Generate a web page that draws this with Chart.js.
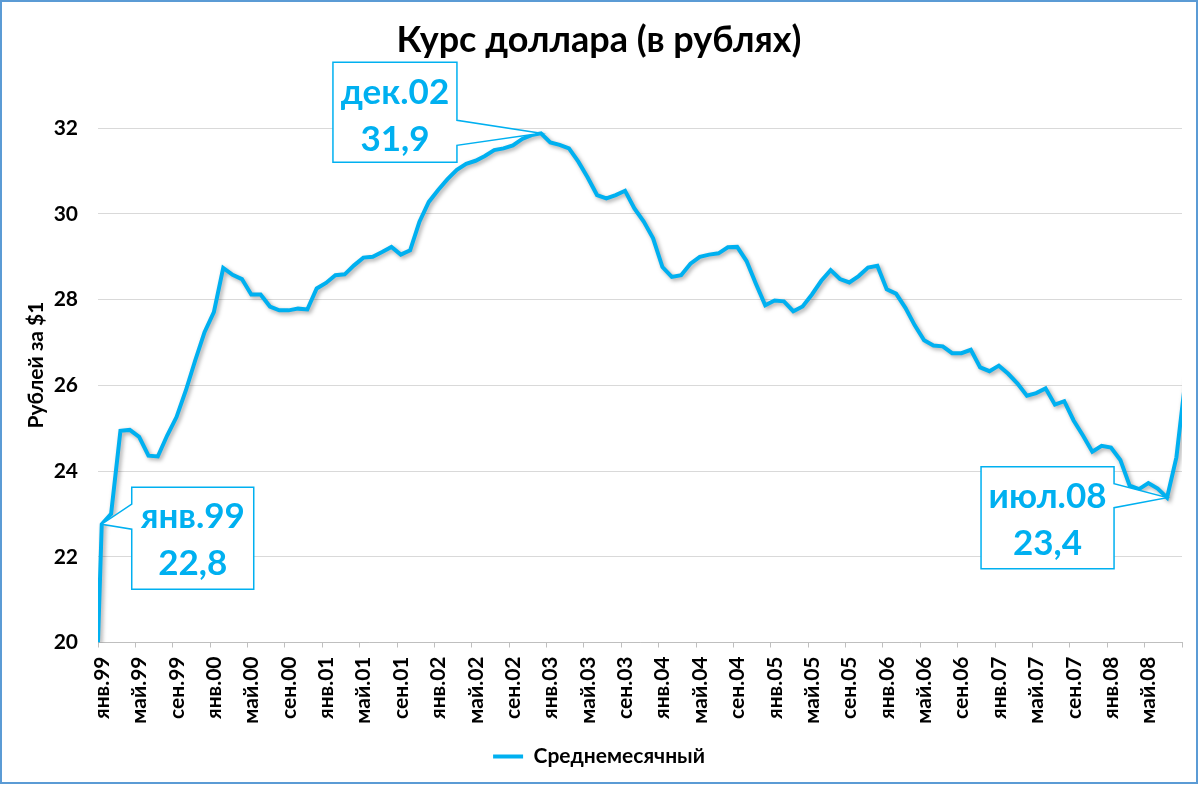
<!DOCTYPE html>
<html>
<head>
<meta charset="utf-8">
<script src="https://cdn.jsdelivr.net/npm/chart.js@4/dist/chart.umd.min.js"></script>
<style>
  html, body { margin: 0; padding: 0; background: #fff; }
  canvas { display: block; }
</style>
</head>
<body>
<canvas id="chart" width="1200" height="785"></canvas>
<script>
// Курс доллара, среднемесячные значения с янв.99 по сен.08
const monthNames = ['янв', 'фев', 'мар', 'апр', 'май', 'июн', 'июл', 'авг', 'сен', 'окт', 'ноя', 'дек'];
const firstYear = 1999;

// значение на начало оси (01.01.99)
const openRate = 20.0;

const rate = [
  22.76, 23.0, 24.94, 24.96, 24.80, 24.36, 24.34, 24.83, 25.26, 25.88, 26.58, 27.24,
  27.71, 28.74, 28.58, 28.48, 28.12, 28.12, 27.84, 27.75, 27.75, 27.79, 27.77, 28.26,
  28.39, 28.57, 28.59, 28.80, 28.98, 29.0, 29.11, 29.23, 29.05, 29.15, 29.82, 30.28,
  30.56, 30.81, 31.03, 31.17, 31.24, 31.35, 31.49, 31.53, 31.60, 31.75, 31.84, 31.88,
  31.67, 31.61, 31.53, 31.22, 30.85, 30.44, 30.36, 30.44, 30.54, 30.13, 29.82, 29.43,
  28.76, 28.53, 28.57, 28.84, 29.0, 29.05, 29.08, 29.22, 29.23, 28.90, 28.37, 27.87,
  27.98, 27.96, 27.73, 27.84, 28.12, 28.44, 28.69, 28.48, 28.40, 28.55, 28.75, 28.79,
  28.24, 28.14, 27.81, 27.40, 27.05, 26.93, 26.91, 26.75, 26.75, 26.83, 26.42, 26.33,
  26.46, 26.27, 26.04, 25.76, 25.82, 25.93, 25.55, 25.63, 25.18, 24.83, 24.45, 24.59,
  24.55, 24.26, 23.66, 23.58, 23.72, 23.59, 23.38, 24.32, 26.2
];

const months = rate.map((_, i) =>
  monthNames[i % 12] + '.' + String((firstYear + Math.floor(i / 12)) % 100).padStart(2, '0'));

// подписи оси X (каждые 4 месяца)
const tickLabels = [
  'янв.99', 'май.99', 'сен.99', 'янв.00', 'май.00', 'сен.00', 'янв.01', 'май.01', 'сен.01',
  'янв.02', 'май.02', 'сен.02', 'янв.03', 'май.03', 'сен.03', 'янв.04', 'май.04', 'сен.04',
  'янв.05', 'май.05', 'сен.05', 'янв.06', 'май.06', 'сен.06', 'янв.07', 'май.07', 'сен.07',
  'янв.08', 'май.08'
];

// месяцы с выносками
const calloutMonths = ['янв.99', 'дек.02', 'июл.08'];

const yTicks = [20, 22, 24, 26, 28, 30, 32];

const BLUE = '#00b0f0';
const FONT = 'Lato, "Open Sans", sans-serif';

// среднемесячное значение ставим примерно на середину месяца
const MID = 0.4;
const points = [{ x: 0, y: openRate }].concat(rate.map((v, i) => ({ x: i + MID, y: v })));

// выноски: смещение рамки относительно точки и место "хвоста"
const calloutLayout = {
  'янв.99': { dx: 30, dy: -37, w: 122, h: 102, side: 'left', a: -20, b: 5 },
  'дек.02': { dx: -208, dy: -71, w: 124, h: 100, side: 'right', a: -13, b: 12 },
  'июл.08': { dx: -186, dy: -31, w: 133, h: 102, side: 'right', a: -14, b: 10 }
};

const calloutPlugin = {
  id: 'callouts',
  beforeDatasetsDraw(chart) {
    const ctx = chart.ctx;
    ctx.save();
    ctx.shadowColor = 'rgba(0,0,0,0.35)';
    ctx.shadowBlur = 4;
    ctx.shadowOffsetX = 2;
    ctx.shadowOffsetY = 2;
  },
  afterDatasetsDraw(chart) {
    const ctx = chart.ctx;
    ctx.restore();
    const meta = chart.getDatasetMeta(0);
    calloutMonths.forEach(m => {
      const idx = months.indexOf(m);
      const el = meta.data[idx + 1];
      const c = calloutLayout[m];
      const px = el.x, py = el.y;
      const left = px + c.dx, top = py + c.dy, right = left + c.w, bottom = top + c.h;
      ctx.save();
      ctx.beginPath();
      ctx.moveTo(left, top);
      ctx.lineTo(right, top);
      if (c.side === 'right') {
        ctx.lineTo(right, py + c.a);
        ctx.lineTo(px, py);
        ctx.lineTo(right, py + c.b);
      }
      ctx.lineTo(right, bottom);
      ctx.lineTo(left, bottom);
      if (c.side === 'left') {
        ctx.lineTo(left, py + c.b);
        ctx.lineTo(px, py);
        ctx.lineTo(left, py + c.a);
      }
      ctx.closePath();
      ctx.fillStyle = '#fff';
      ctx.fill();
      ctx.lineWidth = 1.5;
      ctx.strokeStyle = BLUE;
      ctx.stroke();

      ctx.fillStyle = BLUE;
      ctx.font = 'bold 35px ' + FONT;
      ctx.textAlign = 'center';
      ctx.textBaseline = 'middle';
      const cx = (left + right) / 2;
      ctx.fillText(m, cx, top + 30);
      ctx.fillText(rate[idx].toFixed(1).replace('.', ','), cx, top + 77);
      ctx.restore();
    });
  },
  afterDraw(chart) {
    const ctx = chart.ctx;
    // подпись оси Y
    ctx.save();
    ctx.translate(36, 365);
    ctx.rotate(-Math.PI / 2);
    ctx.fillStyle = '#000';
    ctx.font = 'bold 21px ' + FONT;
    ctx.textAlign = 'center';
    ctx.textBaseline = 'middle';
    ctx.fillText('Рублей за $1', 0, 0);
    ctx.restore();
    // рамка
    ctx.save();
    ctx.strokeStyle = '#5b9bd5';
    ctx.lineWidth = 2;
    ctx.strokeRect(1, 1, 1196, 782);
    ctx.restore();
  }
};

new Chart(document.getElementById('chart'), {
  type: 'line',
  data: {
    datasets: [{
      label: 'Среднемесячный',
      data: points,
      borderColor: BLUE,
      backgroundColor: BLUE,
      borderWidth: 4,
      pointRadius: 0,
      tension: 0,
      fill: false
    }]
  },
  options: {
    responsive: false,
    animation: false,
    layout: { padding: { left: 16, right: 18, top: 0, bottom: 8 } },
    plugins: {
      title: {
        display: true,
        text: 'Курс доллара (в рублях)',
        color: '#000',
        font: { family: FONT, size: 36, weight: 'bold' },
        padding: { top: 19, bottom: 66 }
      },
      legend: {
        position: 'bottom',
        labels: {
          color: '#000',
          font: { family: FONT, size: 21, weight: 'bold' },
          usePointStyle: true,
          pointStyle: 'line',
          pointStyleWidth: 30,
          padding: 10
        }
      },
      tooltip: { enabled: false }
    },
    scales: {
      x: {
        type: 'linear',
        min: 0,
        max: 116,
        afterFit: s => { s.height = 93.5; s.paddingLeft = 0; s.paddingRight = 0; },
        ticks: {
          stepSize: 4,
          autoSkip: false,
          minRotation: 90,
          maxRotation: 90,
          labelOffset: 4,
          padding: 9,
          color: '#000',
          font: { family: FONT, size: 21, weight: 'bold' },
          callback: v => tickLabels[v / 4] || ''
        },
        grid: { drawOnChartArea: false, tickLength: 5, color: '#bfbfbf' },
        border: { color: '#bfbfbf' }
      },
      y: {
        min: 20,
        max: 32,
        afterFit: s => { s.width = 82; },
        afterBuildTicks: s => { s.ticks = yTicks.map(v => ({ value: v })); },
        ticks: {
          padding: 20,
          color: '#000',
          font: { family: FONT, size: 21, weight: 'bold' }
        },
        grid: { color: '#d9d9d9', drawTicks: false },
        border: { display: false }
      }
    }
  },
  plugins: [calloutPlugin]
});
</script>
</body>
</html>
